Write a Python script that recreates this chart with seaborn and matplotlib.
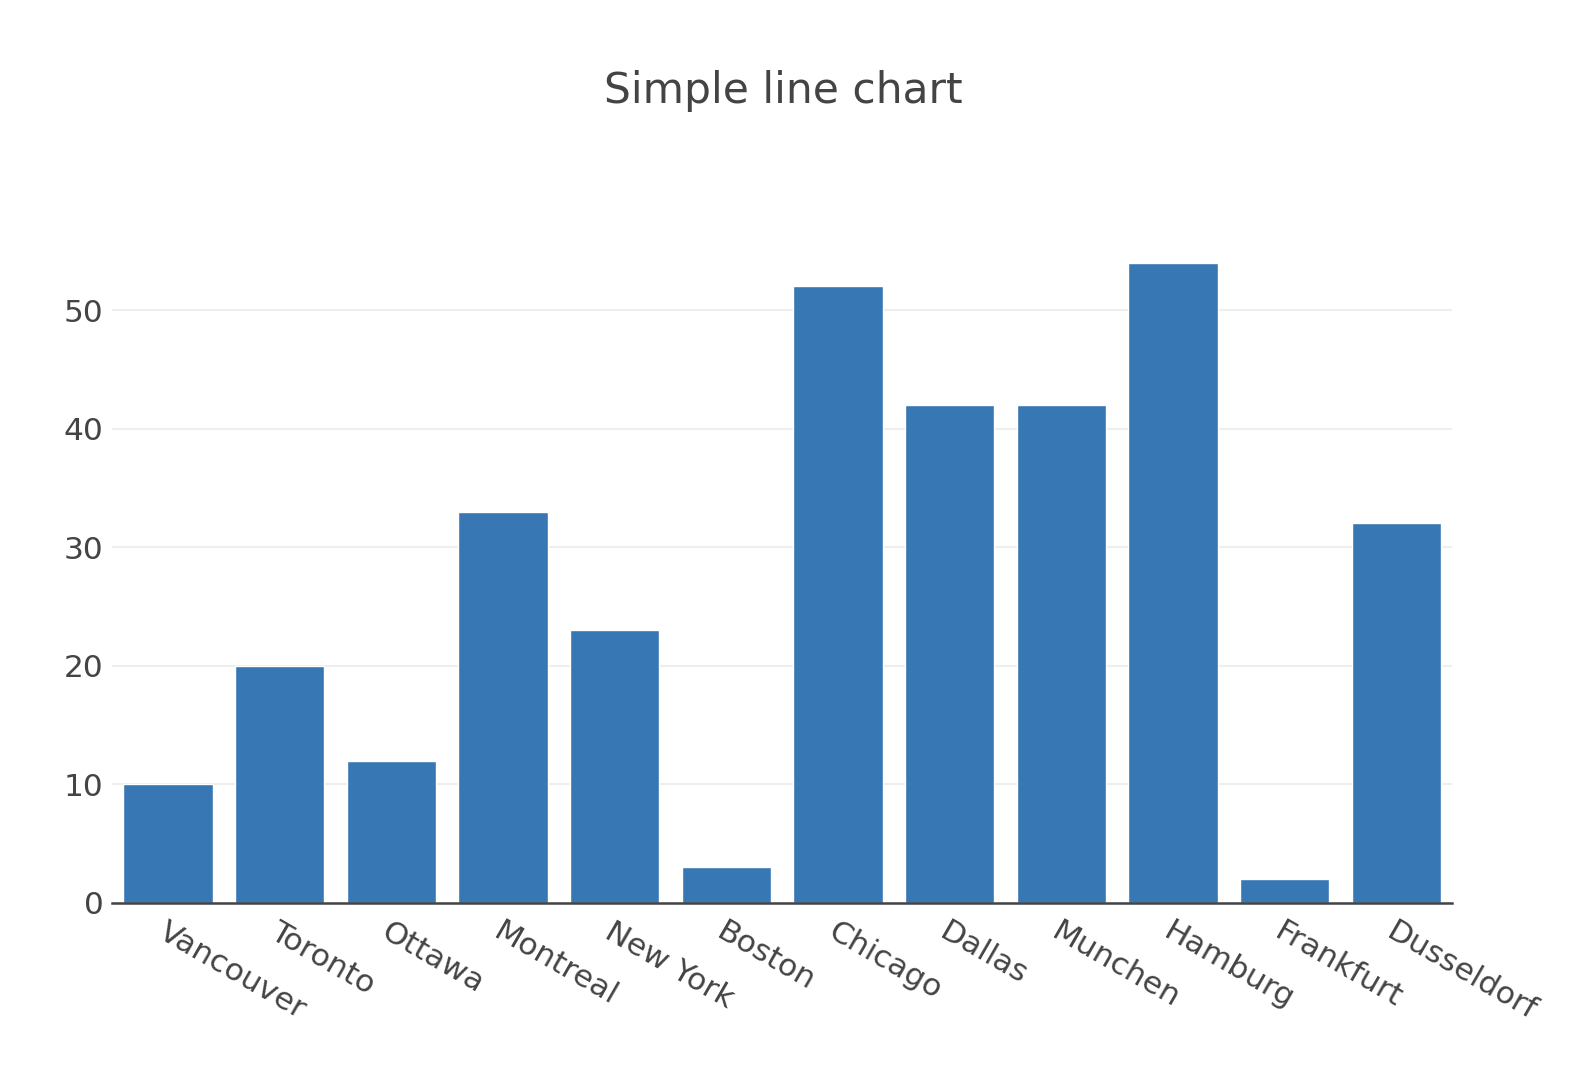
import pandas as pd
import seaborn as sns
import matplotlib.pyplot as plt

# Data.
cities = ['Vancouver', 'Toronto', 'Ottawa', 'Montreal', 'New York', 'Boston',
          'Chicago', 'Dallas', 'Munchen', 'Hamburg', 'Frankfurt', 'Dusseldorf']
values = [10, 20, 12, 33, 23, 3, 52, 42, 42, 54, 2, 32]
y_ticks = [0, 10, 20, 30, 40, 50]

title = 'Simple line chart'
bar_color = '#3777b3'
text_color = '#444444'

df = pd.DataFrame({'city': cities, 'value': values})

sns.set_style('white')
plt.rcParams['font.family'] = ['DejaVu Sans']

fig = plt.figure(figsize=(15.92, 10.8), dpi=100)
ax = fig.add_axes([0.0704, 0.164, 0.8417, 0.624])

sns.barplot(data=df, x='city', y='value', color=bar_color, width=0.8,
            saturation=1, ax=ax)

ax.set_ylim(0, 56.84)
ax.set_yticks(y_ticks)
ax.set_xlabel('')
ax.set_ylabel('')
ax.set_axisbelow(True)
ax.yaxis.grid(True, color='#eeeeee', linewidth=1.5)
ax.xaxis.grid(False)

for side in ['top', 'right', 'left']:
    ax.spines[side].set_visible(False)
ax.spines['bottom'].set_color(text_color)
ax.spines['bottom'].set_linewidth(1.8)
ax.spines['bottom'].set_zorder(5)

ax.tick_params(axis='both', length=0, labelsize=22.5, labelcolor=text_color)
ax.tick_params(axis='y', pad=6)
ax.tick_params(axis='x', pad=10)
plt.setp(ax.get_xticklabels(), rotation=-30, ha='left', va='top',
         rotation_mode='anchor')

fig.text(0.492, 0.916, title, ha='center', va='center', fontsize=30.5,
         color=text_color)

fig.savefig('out.png', dpi=100)
